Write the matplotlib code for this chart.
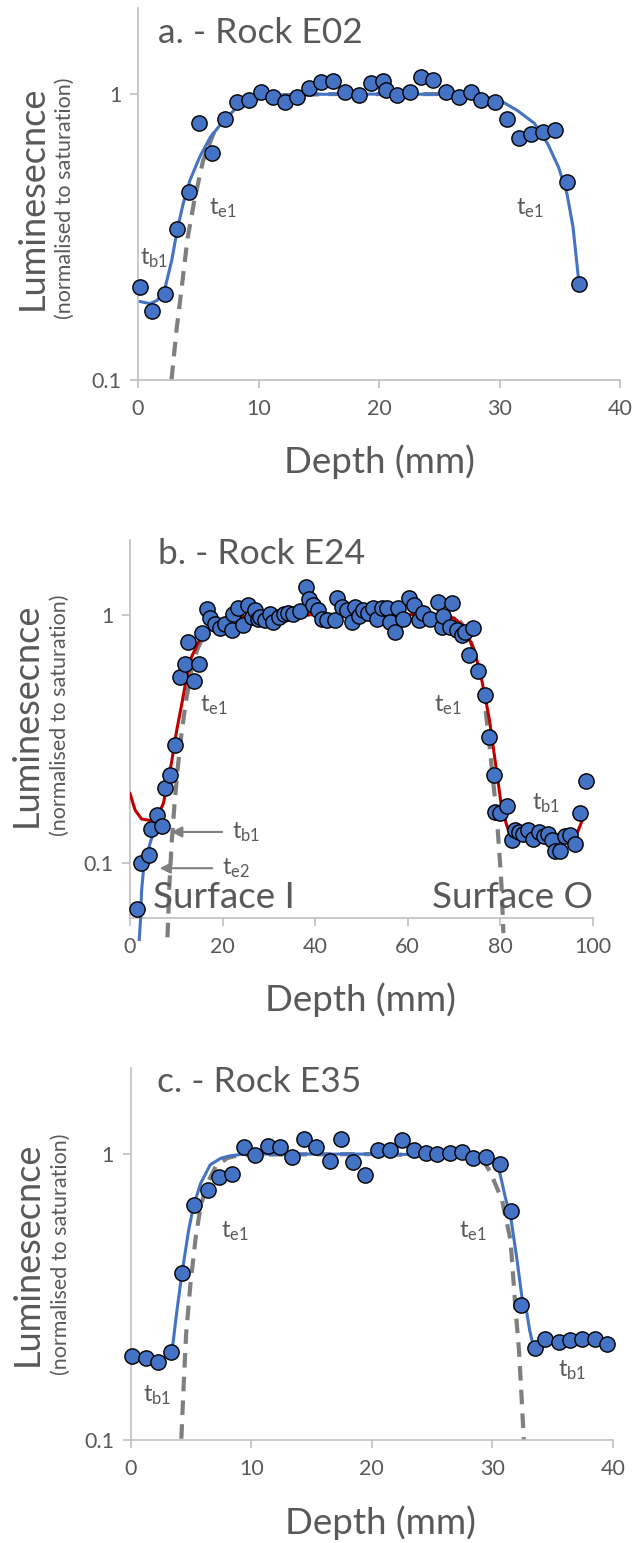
import numpy as np
import matplotlib
matplotlib.use("Agg")
from matplotlib import pyplot as plt

plt.rcParams['font.family'] = ['Lato', 'DejaVu Sans']
plt.rcParams['mathtext.default'] = 'regular'

GREY_TXT = '#595959'
AXIS_COL = '#bfbfbf'
BLUE = '#4472c4'
DASH = '#7f7f7f'
RED = '#c00000'

# ---- panel a: Rock E02 ----
depth_a = [0.2, 1.2, 2.2, 3.25, 4.2, 5.1, 6.1, 7.25, 8.2, 9.2, 10.2, 11.2, 12.2, 13.2,
           14.2, 15.2, 16.2, 17.2, 18.3, 19.3, 20.3, 20.6, 21.5, 22.6, 23.5, 24.5, 25.6,
           26.6, 27.6, 28.5, 29.6, 30.6, 31.6, 32.6, 33.6, 34.6, 35.6, 36.6]
lum_a = [0.212, 0.175, 0.2, 0.337, 0.456, 0.792, 0.623, 0.82, 0.935, 0.955, 1.02, 0.98,
         0.935, 0.98, 1.05, 1.1, 1.11, 1.02, 0.99, 1.09, 1.11, 1.03, 0.99, 1.02, 1.15, 1.12,
         1.02, 0.98, 1.02, 0.95, 0.935, 0.82, 0.70, 0.725, 0.735, 0.748, 0.494, 0.217]
fit_a_x = [0.2, 1.0, 1.6, 2.2, 2.8, 3.25, 3.75, 4.3, 5.1, 6.0, 7.1, 8.2, 9.3, 10.7, 12.0,
           14.0, 20.0, 26.0, 28.5, 30.1, 31.5, 32.9, 34.0, 34.9, 35.6, 36.1, 36.6]
fit_a_y = [0.188, 0.185, 0.19, 0.206, 0.262, 0.334, 0.414, 0.498, 0.60, 0.706, 0.807,
           0.898, 0.948, 0.979, 0.992, 0.998, 1.0, 0.998, 0.985, 0.948, 0.875, 0.79, 0.67,
           0.555, 0.448, 0.343, 0.217]
e1_a_x = [2.78, 3.2, 3.6, 4.1, 4.67, 5.4, 6.25, 7.36, 8.75, 10.1, 12.0, 16.0, 28.0]
e1_a_y = [0.1, 0.15, 0.206, 0.31, 0.424, 0.585, 0.725, 0.85, 0.92, 0.97, 0.99, 1.0, 1.0]

# ---- panel b: Rock E24 ----
depth_b = [1.6, 2.3, 4.0, 4.5, 5.8, 6.9, 7.6, 8.7, 9.7, 10.7, 11.9, 12.6, 13.9, 14.9, 15.5,
           16.6, 17.3, 18.4, 19.5, 20.5, 22.0, 22.3, 23.4, 24.5, 25.6, 26.3, 27.0, 27.7,
           28.1, 29.2, 30.3, 31.0, 32.1, 33.2, 34.2, 35.3, 36.8, 38.05, 38.6, 39.6, 40.7,
           41.4, 42.5, 44.3, 44.8, 45.8, 46.8, 47.9, 48.6, 49.4, 50.4, 51.5, 52.6, 53.3,
           54.4, 55.5, 56.2, 57.3, 58.0, 59.1, 60.2, 61.3, 62.4, 63.4, 64.9, 66.5, 67.4,
           67.7, 69.2, 69.5, 70.6, 71.7, 72.4, 73.2, 74.2, 75.3, 76.8, 77.5, 78.6, 78.9,
           80.0, 81.4, 82.5, 83.2, 84.0, 85.0, 86.1, 87.2, 88.3, 89.4, 90.4, 91.2, 91.9,
           93.0, 94.1, 95.1, 96.2, 97.3, 98.6]
lum_b = [0.065, 0.0997, 0.107, 0.137, 0.155, 0.141, 0.2, 0.225, 0.297, 0.56, 0.63, 0.776,
         0.54, 0.635, 0.84, 1.05, 0.97, 0.92, 0.88, 0.92, 0.865, 1.01, 1.06, 0.905, 1.09,
         0.98, 1.04, 0.96, 0.98, 0.95, 1.01, 0.935, 0.98, 1.01, 1.02, 1.01, 1.03, 1.29,
         1.16, 1.09, 1.04, 0.96, 0.95, 0.95, 1.17, 1.07, 1.04, 0.93, 1.07, 0.99, 1.04,
         1.02, 1.06, 0.96, 1.06, 1.06, 0.93, 0.85, 1.06, 0.96, 1.17, 1.09, 0.95, 1.02,
         0.96, 1.12, 0.89, 0.99, 0.89, 1.11, 0.865, 0.825, 0.85, 0.69, 0.88, 0.59, 0.475,
         0.32, 0.225, 0.16, 0.159, 0.169, 0.123, 0.136, 0.133, 0.131, 0.135, 0.125, 0.133,
         0.128, 0.131, 0.123, 0.111, 0.111, 0.128, 0.129, 0.119, 0.159, 0.213]
fit_b_x = [0.0, 1.1, 2.5, 4.3, 5.8, 7.2, 7.9, 9.0, 10.1, 11.2, 12.25, 13.3, 14.8, 16.2,
           18.0, 20.9, 25.0, 30.0, 40.0, 65.0, 70.0, 72.0, 73.2, 74.5, 75.9, 77.0, 77.7,
           78.4, 79.2, 80.2, 81.3, 82.0, 85.0, 90.0, 95.0, 96.6, 97.6, 98.6]
fit_b_y = [0.19, 0.163, 0.15, 0.148, 0.152, 0.173, 0.20, 0.255, 0.342, 0.437, 0.561,
           0.675, 0.776, 0.851, 0.92, 0.96, 0.985, 0.995, 1.0, 1.0, 0.97, 0.9, 0.81,
           0.71, 0.56, 0.44, 0.375, 0.302, 0.236, 0.173, 0.144, 0.131, 0.13, 0.13, 0.13,
           0.131, 0.146, 0.16]
e2_b_x = [2.0, 2.3, 2.5, 2.9, 3.6, 4.3, 5.4]
e2_b_y = [0.049, 0.06, 0.077, 0.093, 0.105, 0.119, 0.139]
e1_b_x = [8.1, 8.5, 9.0, 9.6, 10.3, 11.2, 12.2, 13.3, 14.5, 16.0, 18.0, 21.0, 25.0, 30.0,
          68.0, 71.0, 73.0, 74.5, 75.8, 76.8, 77.6, 78.4, 79.2, 79.9, 80.3, 80.7]
e1_b_y = [0.05, 0.08, 0.12, 0.17, 0.24, 0.34, 0.46, 0.6, 0.72, 0.83, 0.92, 0.97, 0.99,
          1.0, 1.0, 0.96, 0.85, 0.7, 0.55, 0.42, 0.31, 0.22, 0.16, 0.105, 0.08, 0.052]

# ---- panel c: Rock E35 ----
depth_c = [0.14, 1.25, 2.26, 3.37, 4.26, 5.26, 6.38, 7.35, 8.41, 9.36, 10.33, 11.36,
           12.4, 13.4, 14.35, 15.35, 16.5, 17.4, 18.4, 19.4, 20.5, 21.5, 22.5, 23.5,
           24.5, 25.4, 26.5, 27.5, 28.4, 29.5, 30.6, 31.5, 32.4, 33.5, 34.4, 35.5, 36.4,
           37.4, 38.5, 39.5]
lum_c = [0.197, 0.193, 0.187, 0.203, 0.385, 0.663, 0.748, 0.829, 0.849, 1.06, 0.995,
         1.07, 1.06, 0.973, 1.13, 1.06, 0.943, 1.13, 0.937, 0.842, 1.035, 1.035, 1.12,
         1.035, 1.01, 1.0, 1.01, 1.013, 0.968, 0.98, 0.925, 0.634, 0.297, 0.21, 0.225,
         0.221, 0.224, 0.225, 0.225, 0.216]
fit_c_x = [3.4, 3.84, 4.26, 4.8, 5.2, 5.8, 6.6, 7.5, 8.3, 9.4, 20.0, 29.5, 30.4, 31.05,
           31.55, 32.0, 32.44, 32.86, 33.08, 33.27]
fit_c_y = [0.2, 0.285, 0.385, 0.54, 0.656, 0.79, 0.918, 0.968, 0.987, 1.0, 1.0, 0.99,
           0.943, 0.711, 0.589, 0.438, 0.318, 0.278, 0.243, 0.224]
e1_c_x = [4.2, 4.4, 4.6, 4.96, 5.4, 5.8, 6.35, 7.05, 8.0, 9.1, 20.0, 29.0, 29.8, 30.8,
          31.5, 31.9, 32.2, 32.4, 32.6]
e1_c_y = [0.101, 0.158, 0.236, 0.353, 0.515, 0.656, 0.79, 0.905, 0.968, 0.995, 1.0,
          0.98, 0.87, 0.69, 0.50, 0.293, 0.207, 0.146, 0.1]

W, H = 641, 1543
fig = plt.figure(figsize=(W / 100, H / 100), dpi=100)


def px_axes(l, t, r, b):
    return fig.add_axes([l / W, 1 - b / H, (r - l) / W, (b - t) / H])


def style(ax, xlim, ylim, xticks):
    ax.set_yscale('log')
    ax.set_xlim(*xlim)
    ax.set_ylim(*ylim)
    ax.set_xticks(xticks)
    ax.set_xticklabels([str(v) for v in xticks])
    ax.set_yticks([0.1, 1])
    ax.set_yticklabels(['0.1', '1'])
    ax.yaxis.set_minor_locator(matplotlib.ticker.NullLocator())
    for s in ['top', 'right']:
        ax.spines[s].set_visible(False)
    for s in ['left', 'bottom']:
        ax.spines[s].set_color(AXIS_COL)
        ax.spines[s].set_linewidth(1.2)
    ax.tick_params(axis='both', colors=AXIS_COL, labelcolor=GREY_TXT, labelsize=15.5,
                   length=6, width=1.2)
    ax.tick_params(axis='x', pad=8)
    ax.tick_params(axis='y', pad=6)
    ax.patch.set_alpha(0)


def points(ax, x, y):
    ax.plot(x, y, 'o', ms=11, mfc=BLUE, mec='black', mew=1.0, zorder=5, clip_on=False)


def tlabel(ax, x, y, sub):
    ax.text(x, y, 't$_{%s}$' % sub, color=GREY_TXT, fontsize=17, va='center', ha='left')


def ylabels(xc1, xc2, yc):
    fig.text(xc1 / W, 1 - yc / H, 'Luminesecnce', rotation=90, ha='center', va='center',
             fontsize=26, color=GREY_TXT)
    fig.text(xc2 / W, 1 - yc / H, '(normalised to saturation)', rotation=90, ha='center',
             va='center', fontsize=15.5, color=GREY_TXT)


def xlabel(xc, yc):
    fig.text(xc / W, 1 - yc / H, 'Depth (mm)', ha='center', va='center', fontsize=26.5,
             color=GREY_TXT)


# panel a
ax = px_axes(138, 8, 620, 380)
style(ax, (0, 40), (0.1, 2), [0, 10, 20, 30, 40])
ax.plot(e1_a_x, e1_a_y, color=DASH, lw=3, dashes=(3.5, 2.2), zorder=2)
ax.plot(fit_a_x, fit_a_y, color=BLUE, lw=2.2, zorder=3)
points(ax, depth_a, lum_a)
ax.text(0.041, 0.933, 'a. - Rock E02', transform=ax.transAxes, fontsize=25.5,
        color=GREY_TXT, va='center', ha='left')
tlabel(ax, 0.15, 0.267, 'b1')
tlabel(ax, 5.9, 0.398, 'e1')
tlabel(ax, 31.4, 0.398, 'e1')
ylabels(32, 65, 198)
xlabel(379, 462)

# panel b
ax = px_axes(130, 540, 592.7, 917.7)
style(ax, (0, 100), (0.06, 2), [0, 20, 40, 60, 80, 100])
ax.plot(e1_b_x, e1_b_y, color=DASH, lw=3, dashes=(3.5, 2.2), zorder=2, clip_on=False)
ax.plot(fit_b_x, fit_b_y, color=RED, lw=2.2, zorder=3)
ax.plot(e2_b_x, e2_b_y, color=BLUE, lw=2.2, zorder=3, clip_on=False)
points(ax, depth_b, lum_b)
ax.text(0.061, 0.963, 'b. - Rock E24', transform=ax.transAxes, fontsize=25.5,
        color=GREY_TXT, va='center', ha='left')
tlabel(ax, 15.1, 0.43, 'e1')
tlabel(ax, 65.8, 0.43, 'e1')
tlabel(ax, 86.8, 0.173, 'b1')
ax.annotate('', xy=(8.3, 0.133), xytext=(20.5, 0.133),
            arrowprops=dict(arrowstyle='-|>', color=DASH, lw=1.5, mutation_scale=16))
tlabel(ax, 22.0, 0.133, 'b1')
ax.annotate('', xy=(5.8, 0.095), xytext=(18.4, 0.095),
            arrowprops=dict(arrowstyle='-|>', color=DASH, lw=1.5, mutation_scale=16))
tlabel(ax, 19.8, 0.095, 'e2')
ax.text(4.9, 0.0724, 'Surface I', fontsize=26.5, color=GREY_TXT, va='center', ha='left')
ax.text(100, 0.0724, 'Surface O', fontsize=26.5, color=GREY_TXT, va='center', ha='right')
ylabels(26, 60, 715)
xlabel(360, 1000)

# panel c
ax = px_axes(130.7, 1068, 613, 1440)
style(ax, (0, 40), (0.1, 2), [0, 10, 20, 30, 40])
ax.plot(e1_c_x, e1_c_y, color=DASH, lw=3, dashes=(3.5, 2.2), zorder=2)
ax.plot(fit_c_x, fit_c_y, color=BLUE, lw=2.2, zorder=3)
points(ax, depth_c, lum_c)
ax.text(0.055, 0.962, 'c. - Rock E35', transform=ax.transAxes, fontsize=25.5,
        color=GREY_TXT, va='center', ha='left')
tlabel(ax, 7.46, 0.536, 'e1')
tlabel(ax, 27.2, 0.536, 'e1')
tlabel(ax, 1.0, 0.143, 'b1')
tlabel(ax, 35.4, 0.176, 'b1')
ylabels(27.5, 61, 1254)
xlabel(380, 1523)

fig.savefig('out.png', dpi=100)
